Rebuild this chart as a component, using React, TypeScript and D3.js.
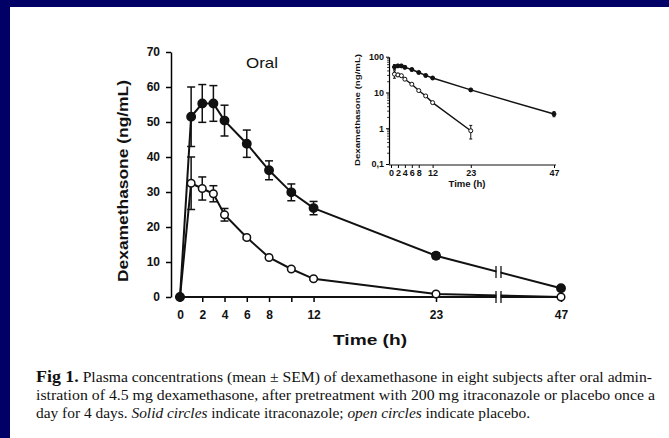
import React, { useEffect, useRef } from 'react';
import * as d3 from 'd3';

// Sampling times (h) and mean ± SEM concentrations (ng/mL)
const times = [0, 1, 2, 3, 4, 6, 8, 10, 12, 23, 47];
const itraMean = [0, 51.5, 55.3, 55.3, 50.4, 43.8, 36.2, 29.9, 25.4, 11.8, 2.5];
const itraSem = [0, 8.5, 5.4, 5.1, 4.4, 3.9, 2.7, 2.4, 1.9, 0.8, 0.4];
const placMean = [0, 32.5, 31.0, 29.5, 23.5, 17.0, 11.3, 8.0, 5.2, 0.85, 0];
const placSem = [0, 7.5, 3.3, 2.3, 1.8, 0.5, 0.4, 0.3, 0.3, 0.35, 0];

const mainXTicks = [0, 2, 4, 6, 8, 10, 12, 23, 47];
const mainXLabels = ['0', '2', '4', '6', '8', '', '12', '23', '47'];
const mainYTicks = [0, 10, 20, 30, 40, 50, 60, 70];
const insetXTicks = [0, 2, 4, 6, 8, 12, 23, 47];
const insetYTicks = [0.1, 1, 10, 100];
const insetYLabels = ['0,1', '1', '10', '100'];
const axisBreakAt = 35;

const captionLine1 = ' Plasma concentrations (mean \u00b1 SEM) of dexamethasone in eight subjects after oral admin-';
const captionLine2 = 'istration of 4.5 mg dexamethasone, after pretreatment with 200 mg itraconazole or placebo once a';

const W = 669;
const H = 438;
const SANS = '"Liberation Sans", Arial, sans-serif';
const SERIF = '"Liberation Serif", "Times New Roman", serif';

const App = () => {
    const svgRef = useRef<SVGSVGElement>(null);

    useEffect(() => {
        if (!svgRef.current) return;
        const svg = d3.select(svgRef.current);
        svg.selectAll('*').remove();

        // slide frame
        svg.append('rect').attr('width', W).attr('height', H).attr('fill', '#000066');
        svg.append('rect').attr('x', 10).attr('y', 7).attr('width', W - 10).attr('height', H - 7).attr('fill', '#ffffff');

        // ---------- main linear chart ----------
        const x = d3.scaleLinear().domain([0, 23, 47]).range([180, 436, 561]);
        const y = d3.scaleLinear().domain([0, 70]).range([297, 52]);

        const yAxis = svg.append('g')
            .attr('transform', 'translate(171,0)')
            .call(d3.axisLeft(y).tickValues(mainYTicks).tickSize(5).tickSizeOuter(0).tickPadding(6));
        yAxis.select('.domain').attr('stroke-width', 1.5);
        yAxis.selectAll('line').attr('stroke-width', 1.5);
        yAxis.selectAll('text')
            .style('font-family', SANS).style('font-size', '12px').style('font-weight', 'bold').attr('fill', '#111');

        const xAxis = svg.append('g')
            .attr('transform', 'translate(0,297)')
            .call(d3.axisBottom(x).tickValues(mainXTicks)
                .tickFormat((d, i) => mainXLabels[i]).tickSize(5).tickSizeOuter(0).tickPadding(8));
        xAxis.select('.domain').remove();
        xAxis.selectAll('line').attr('stroke-width', 1.5);
        xAxis.selectAll('text')
            .style('font-family', SANS).style('font-size', '12px').style('font-weight', 'bold').attr('fill', '#111');
        svg.append('line')
            .attr('x1', 175).attr('x2', 564).attr('y1', 297).attr('y2', 297)
            .attr('stroke', '#111').attr('stroke-width', 1.8);

        const drawSeries = (g, mean, sem, filled) => {
            const pts = times.map((t, i) => [x(t), y(mean[i])] as [number, number]);
            g.append('path')
                .attr('d', d3.line()(pts))
                .attr('fill', 'none').attr('stroke', '#111').attr('stroke-width', 2);
            times.forEach((t, i) => {
                if (!sem[i]) return;
                const cx = x(t);
                const top = y(mean[i] + sem[i]);
                const bot = y(mean[i] - sem[i]);
                g.append('line').attr('x1', cx).attr('x2', cx).attr('y1', top).attr('y2', bot)
                    .attr('stroke', '#111').attr('stroke-width', 1.5);
                [top, bot].forEach(v => g.append('line')
                    .attr('x1', cx - 4).attr('x2', cx + 4).attr('y1', v).attr('y2', v)
                    .attr('stroke', '#111').attr('stroke-width', 1.5));
            });
            g.selectAll('circle')
                .data(times)
                .enter()
                .append('circle')
                .attr('cx', d => x(d))
                .attr('cy', (d, i) => y(mean[i]))
                .attr('r', filled ? 4.2 : 3.8)
                .attr('fill', filled ? '#111' : '#fff')
                .attr('stroke', '#111')
                .attr('stroke-width', 1.5);
        };

        drawSeries(svg.append('g'), placMean, placSem, false);
        drawSeries(svg.append('g'), itraMean, itraSem, true);

        // axis break marks
        const bx = x(axisBreakAt);
        const frac = (bx - x(23)) / (x(47) - x(23));
        const drawBreak = (cy) => {
            svg.append('rect').attr('x', bx - 2).attr('y', cy - 5).attr('width', 4).attr('height', 10).attr('fill', '#fff');
            [-2.5, 2.5].forEach(o => svg.append('line')
                .attr('x1', bx + o).attr('x2', bx + o).attr('y1', cy - 6).attr('y2', cy + 6)
                .attr('stroke', '#111').attr('stroke-width', 1.3));
        };
        drawBreak(y(itraMean[9]) + (y(itraMean[10]) - y(itraMean[9])) * frac);
        drawBreak(297);

        svg.append('text')
            .attr('x', 262).attr('y', 68).attr('text-anchor', 'middle')
            .attr('textLength', 32).attr('lengthAdjust', 'spacingAndGlyphs')
            .style('font-family', SANS).style('font-size', '15px').attr('fill', '#111')
            .text('Oral');

        svg.append('text')
            .attr('transform', 'translate(128,181) rotate(-90)')
            .attr('text-anchor', 'middle')
            .attr('textLength', 202).attr('lengthAdjust', 'spacingAndGlyphs')
            .style('font-family', SANS).style('font-size', '15px').style('font-weight', 'bold').attr('fill', '#111')
            .text('Dexamethasone (ng/mL)');

        svg.append('text')
            .attr('x', 370).attr('y', 345).attr('text-anchor', 'middle')
            .attr('textLength', 74).attr('lengthAdjust', 'spacingAndGlyphs')
            .style('font-family', SANS).style('font-size', '15px').style('font-weight', 'bold').attr('fill', '#111')
            .text('Time (h)');

        // ---------- inset log chart ----------
        const ix = d3.scaleLinear().domain([0, 47]).range([391, 554]);
        const iy = d3.scaleLog().domain([0.1, 100]).range([164, 56.7]);

        const iyAxis = svg.append('g')
            .attr('transform', 'translate(389,0)')
            .call(d3.axisLeft(iy).tickValues(insetYTicks)
                .tickFormat((d, i) => insetYLabels[i]).tickSize(3).tickSizeOuter(0).tickPadding(2));
        iyAxis.select('.domain').attr('stroke-width', 1.2);
        iyAxis.selectAll('text')
            .style('font-family', SANS).style('font-size', '9px').style('font-weight', 'bold').attr('fill', '#111');
        const minor = [];
        [0.1, 1, 10].forEach(dec => d3.range(2, 10).forEach(m => minor.push(dec * m)));
        svg.append('g').selectAll('line')
            .data(minor).enter().append('line')
            .attr('x1', 387).attr('x2', 389)
            .attr('y1', d => iy(d)).attr('y2', d => iy(d))
            .attr('stroke', '#111').attr('stroke-width', 0.8);

        const ixAxis = svg.append('g')
            .attr('transform', 'translate(0,165)')
            .call(d3.axisBottom(ix).tickValues(insetXTicks).tickSize(3).tickSizeOuter(0).tickPadding(2));
        ixAxis.select('.domain').remove();
        ixAxis.selectAll('text')
            .style('font-family', SANS).style('font-size', '9px').style('font-weight', 'bold').attr('fill', '#111');
        svg.append('line')
            .attr('x1', 389).attr('x2', 556).attr('y1', 165).attr('y2', 165)
            .attr('stroke', '#111').attr('stroke-width', 1.2);

        const drawInset = (mean, sem, filled) => {
            const idx = times.map((t, i) => i).filter(i => mean[i] > 0);
            svg.append('path')
                .attr('d', d3.line()(idx.map(i => [ix(times[i]), iy(mean[i])] as [number, number])))
                .attr('fill', 'none').attr('stroke', '#111').attr('stroke-width', 1.4);
            idx.forEach(i => {
                const cx = ix(times[i]);
                const top = iy(mean[i] + sem[i]);
                const bot = iy(Math.max(mean[i] - sem[i], 0.1));
                svg.append('line').attr('x1', cx).attr('x2', cx).attr('y1', top).attr('y2', bot)
                    .attr('stroke', '#111').attr('stroke-width', 1);
                [top, bot].forEach(v => svg.append('line')
                    .attr('x1', cx - 1.5).attr('x2', cx + 1.5).attr('y1', v).attr('y2', v)
                    .attr('stroke', '#111').attr('stroke-width', 1));
                svg.append('circle')
                    .attr('cx', cx).attr('cy', iy(mean[i])).attr('r', 2)
                    .attr('fill', filled ? '#111' : '#fff').attr('stroke', '#111').attr('stroke-width', 1);
            });
        };
        drawInset(placMean, placSem, false);
        drawInset(itraMean, itraSem, true);

        svg.append('text')
            .attr('transform', 'translate(360,110) rotate(-90)')
            .attr('text-anchor', 'middle')
            .attr('textLength', 112).attr('lengthAdjust', 'spacingAndGlyphs')
            .style('font-family', SANS).style('font-size', '8px').style('font-weight', 'bold').attr('fill', '#111')
            .text('Dexamethasone (ng/mL)');
        svg.append('text')
            .attr('x', 467).attr('y', 187).attr('text-anchor', 'middle')
            .attr('textLength', 37).attr('lengthAdjust', 'spacingAndGlyphs')
            .style('font-family', SANS).style('font-size', '9px').style('font-weight', 'bold').attr('fill', '#111')
            .text('Time (h)');

        // ---------- caption ----------
        const cap1 = svg.append('text')
            .attr('x', 36).attr('y', 382)
            .attr('textLength', 616).attr('lengthAdjust', 'spacingAndGlyphs')
            .style('font-family', SERIF).style('font-size', '14px').attr('fill', '#111');
        cap1.append('tspan').style('font-weight', 'bold').style('font-size', '16px').text('Fig 1.');
        cap1.append('tspan').text(captionLine1);

        svg.append('text')
            .attr('x', 36).attr('y', 400)
            .attr('textLength', 619).attr('lengthAdjust', 'spacingAndGlyphs')
            .style('font-family', SERIF).style('font-size', '14px').attr('fill', '#111')
            .text(captionLine2);

        const cap3 = svg.append('text')
            .attr('x', 36).attr('y', 418)
            .attr('textLength', 494).attr('lengthAdjust', 'spacingAndGlyphs')
            .style('font-family', SERIF).style('font-size', '14px').attr('fill', '#111');
        cap3.append('tspan').text('day for 4 days. ');
        cap3.append('tspan').style('font-style', 'italic').text('Solid circles');
        cap3.append('tspan').text(' indicate itraconazole; ');
        cap3.append('tspan').style('font-style', 'italic').text('open circles');
        cap3.append('tspan').text(' indicate placebo.');
    }, []);

    return (
        <svg ref={svgRef} width={W} height={H}
            style={{ position: 'absolute', left: 0, top: 0, display: 'block' }} />
    );
};

export default App;
